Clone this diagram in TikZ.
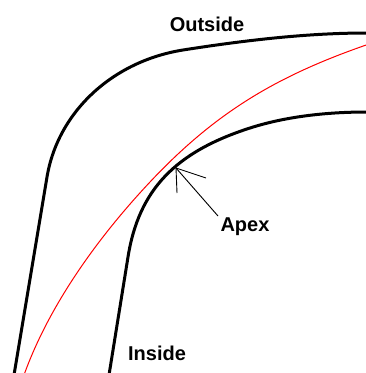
\documentclass[tikz,border=0pt]{standalone}
\usepackage{fontspec}
\setmainfont{Liberation Sans}
\begin{document}
\begin{tikzpicture}[x=1pt,y=-1pt,
  edge/.style={line width=3pt,black,line join=round},
  racing/.style={line width=1pt,red},
  pointer/.style={line width=0.9pt,black},
  lbl/.style={font=\fontsize{20}{22}\selectfont\bfseries,inner sep=0pt}]
\useasboundingbox (0,0) rectangle (365,373);
% outside edge
\draw[edge] (14,375) -- (47,177) .. controls (57.8,112.2) and (112.2,61.3) .. (183,50)
  .. controls (250,39.5) and (310,33) .. (367,33);
% racing line
\draw[racing] (24,375) .. controls (49.4,304.4) and (98.6,236.7) .. (150,182)
  .. controls (215.1,112.7) and (276.2,76.2) .. (367,44.7);
% inside edge
\draw[edge] (109,375) -- (128,257) .. controls (138.7,189.8) and (175.3,152) .. (250,128)
  .. controls (288,115.8) and (330,112) .. (367,112);
\coordinate (apex) at (176,168);
\node[lbl] (outside) at (207,24) {Outside};
\node[lbl] (apexlbl) at (245,227) {Apex};
\node[lbl] (inside) at (157,353) {Inside};
\coordinate (t1) at (177,193);
\coordinate (t2) at (206,178);
\coordinate (t3) at (218,216);
\draw[pointer] (apex) -- (t1);
\draw[pointer] (apex) -- (t2);
\draw[pointer] (apex) -- (t3);
\end{tikzpicture}
\end{document}
